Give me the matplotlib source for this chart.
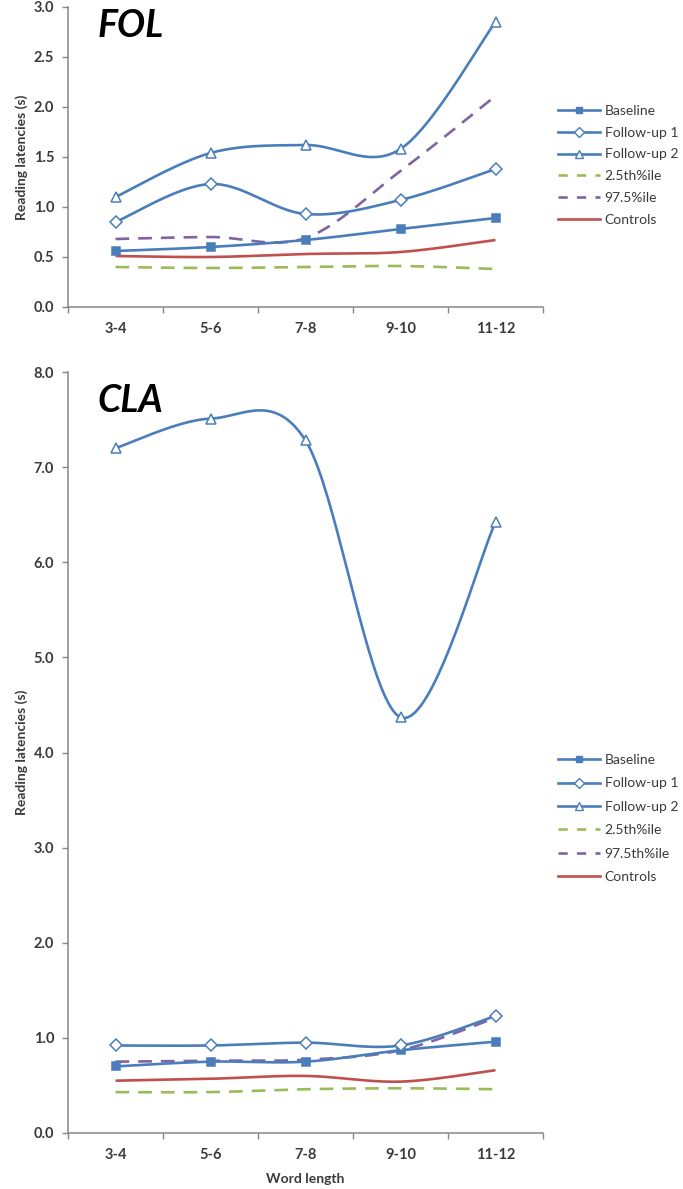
import matplotlib
matplotlib.use("Agg")
import matplotlib.pyplot as plt
from matplotlib.lines import Line2D
from matplotlib.ticker import FixedLocator, FormatStrFormatter
import numpy as np

plt.rcParams["font.family"] = ["Lato", "DejaVu Sans"]

CATS = ["3-4", "5-6", "7-8", "9-10", "11-12"]

# FOL panel
FOL_BASELINE = [0.56, 0.60, 0.67, 0.78, 0.89]
FOL_FU1 = [0.85, 1.23, 0.93, 1.07, 1.38]
FOL_FU2 = [1.10, 1.54, 1.62, 1.58, 2.85]
FOL_P025 = [0.40, 0.39, 0.40, 0.41, 0.38]
FOL_P975 = [0.68, 0.70, 0.69, 1.36, 2.11]
FOL_CTRL = [0.51, 0.50, 0.53, 0.55, 0.67]

# CLA panel
CLA_BASELINE = [0.70, 0.75, 0.75, 0.87, 0.96]
CLA_FU1 = [0.92, 0.92, 0.95, 0.92, 1.23]
CLA_FU2 = [7.20, 7.51, 7.28, 4.37, 6.42]
CLA_P025 = [0.43, 0.43, 0.46, 0.47, 0.46]
CLA_P975 = [0.75, 0.76, 0.77, 0.87, 1.21]
CLA_CTRL = [0.55, 0.57, 0.60, 0.54, 0.66]

BLUE, GREEN, PURPLE, RED = "#4A7EBB", "#9BBB59", "#8064A2", "#C0504D"
AXC, TXT = "#868686", "#3a3a3a"


def smooth(x, y, n=40):
    # Excel-style smoothed line: Catmull-Rom segments as cubic Beziers
    P = np.column_stack([x, y]).astype(float)
    P = np.vstack([P[0], P, P[-1]])
    t = np.linspace(0, 1, n)[:, None]
    segs = []
    for i in range(1, len(P) - 2):
        p0, p1, p2, p3 = P[i - 1], P[i], P[i + 1], P[i + 2]
        c1 = p1 + (p2 - p0) / 6
        c2 = p2 - (p3 - p1) / 6
        segs.append((1 - t) ** 3 * p1 + 3 * (1 - t) ** 2 * t * c1
                    + 3 * (1 - t) * t ** 2 * c2 + t ** 3 * p2)
    s = np.vstack(segs)
    return s[:, 0], s[:, 1]


def panel(ax, series, ymax, ystep, title, title_y):
    x = np.arange(len(CATS))
    for vals, color, dash, marker, mfc, ms in series:
        sx, sy = smooth(x, vals)
        ln, = ax.plot(sx, sy, color=color, lw=1.9, solid_capstyle="butt", zorder=2)
        if dash:
            ln.set_dashes((5.2, 3.4))
        if marker:
            ax.plot(x, vals, ls="none", marker=marker, ms=ms, mfc=mfc,
                    mec=color, mew=1.1, zorder=3)
    ax.set_xlim(-0.5, len(CATS) - 0.5)
    ax.set_ylim(0, ymax)
    ax.yaxis.set_major_locator(FixedLocator(np.arange(0, ymax + 1e-9, ystep)))
    ax.yaxis.set_major_formatter(FormatStrFormatter("%.1f"))
    ax.set_xticks(x)
    ax.set_xticklabels(CATS)
    ax.set_xticks(np.arange(-0.5, len(CATS)), minor=True)
    ax.tick_params(axis="x", which="major", length=0, pad=11, labelsize=10.5,
                   labelcolor=TXT)
    ax.tick_params(axis="x", which="minor", length=4, width=1, color=AXC,
                   direction="out")
    ax.tick_params(axis="y", length=4, width=1, color=AXC, pad=6,
                   labelsize=10.5, labelcolor=TXT)
    for lab in ax.get_xticklabels() + ax.get_yticklabels():
        lab.set_fontweight("bold")
    ax.spines[["top", "right"]].set_visible(False)
    ax.spines[["left", "bottom"]].set_color(AXC)
    ax.spines[["left", "bottom"]].set_linewidth(1.1)
    ax.set_ylabel("Reading latencies (s)", fontsize=10, fontweight="bold",
                  color=TXT, labelpad=4)
    ax.text(0.063, title_y, title, transform=ax.transAxes, fontsize=27,
            fontweight="bold", fontstyle="italic", va="baseline", ha="left",
            color="black")


def legend(fig, labels, y_top, spacing):
    handles = [
        Line2D([], [], color=BLUE, lw=1.9, marker="s", ms=5, mfc=BLUE, mec=BLUE),
        Line2D([], [], color=BLUE, lw=1.9, marker="D", ms=5, mfc="white", mec=BLUE),
        Line2D([], [], color=BLUE, lw=1.9, marker="^", ms=6, mfc="white", mec=BLUE),
        Line2D([], [], color=GREEN, lw=1.9, dashes=(3.5, 3.5)),
        Line2D([], [], color=PURPLE, lw=1.9, dashes=(3.5, 3.5)),
        Line2D([], [], color=RED, lw=1.9),
    ]
    fig.legend(handles, labels, loc="upper left",
               bbox_to_anchor=(558 / 683, 1 - y_top / 1189), frameon=False,
               borderpad=0, borderaxespad=0, handlelength=3.0, handletextpad=0.35,
               labelspacing=spacing, fontsize=10, labelcolor=TXT, numpoints=1)


fig = plt.figure(figsize=(6.83, 11.89), dpi=100)
ax1 = fig.add_axes([68 / 683, 1 - 307 / 1189, 475 / 683, 300 / 1189])
ax2 = fig.add_axes([68 / 683, 1 - 1133 / 1189, 475 / 683, 761 / 1189])

panel(ax1, [
    (FOL_P025, GREEN, True, None, None, 0),
    (FOL_P975, PURPLE, True, None, None, 0),
    (FOL_CTRL, RED, False, None, None, 0),
    (FOL_BASELINE, BLUE, False, "s", BLUE, 6),
    (FOL_FU1, BLUE, False, "D", "white", 6.5),
    (FOL_FU2, BLUE, False, "^", "white", 7.5),
], 3.0, 0.5, "FOL", 0.90)

panel(ax2, [
    (CLA_P025, GREEN, True, None, None, 0),
    (CLA_P975, PURPLE, True, None, None, 0),
    (CLA_CTRL, RED, False, None, None, 0),
    (CLA_BASELINE, BLUE, False, "s", BLUE, 6),
    (CLA_FU1, BLUE, False, "D", "white", 6.5),
    (CLA_FU2, BLUE, False, "^", "white", 7.5),
], 8.0, 1.0, "CLA", 0.947)
ax2.set_xlabel("Word length", fontsize=10, fontweight="bold", color=TXT,
               labelpad=8)

legend(fig, ["Baseline", "Follow-up 1", "Follow-up 2", "2.5th%ile", "97.5%ile",
             "Controls"], 105, 0.70)
legend(fig, ["Baseline", "Follow-up 1", "Follow-up 2", "2.5th%ile", "97.5th%ile",
             "Controls"], 754, 0.82)

fig.savefig("out.png", dpi=100, facecolor="white")
